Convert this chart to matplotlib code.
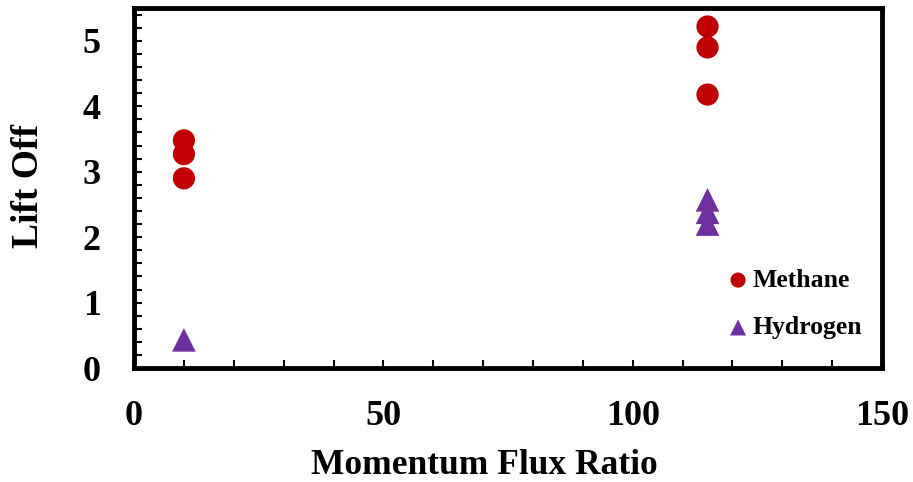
import matplotlib
matplotlib.use("Agg")
import matplotlib.pyplot as plt
from matplotlib.ticker import MultipleLocator

# Data
methane_x = [10, 10, 10, 115, 115, 115]
methane_y = [3.48, 3.27, 2.90, 5.22, 4.90, 4.18]
hydrogen_x = [10, 115, 115, 115]
hydrogen_y = [0.43, 2.57, 2.38, 2.20]

x_ticks = [0, 50, 100, 150]
y_ticks = [0, 1, 2, 3, 4, 5]

plt.rcParams['font.family'] = ['Liberation Serif', 'DejaVu Serif']
plt.rcParams['font.weight'] = 'bold'

fig = plt.figure(figsize=(9.13, 4.82), dpi=100)
ax = fig.add_axes([0.1468, 0.2365, 0.9661 - 0.1468, 0.983 - 0.2365])

ax.scatter(methane_x, methane_y, s=16**2, marker='o', color='#C00000',
           edgecolors='none', label='Methane', zorder=3)
ax.scatter(hydrogen_x, hydrogen_y, s=17**2, marker='^', color='#7030A0',
           edgecolors='none', label='Hydrogen', zorder=3)

ax.set_xlim(0, 150)
ax.set_ylim(0, 5.5)
ax.set_xticks(x_ticks)
ax.set_yticks(y_ticks)
ax.xaxis.set_minor_locator(MultipleLocator(10))
ax.yaxis.set_minor_locator(MultipleLocator(0.2))

for s in ax.spines.values():
    s.set_linewidth(3.5)
    s.set_color('black')

ax.tick_params(which='both', direction='in', length=6, width=1.5,
               top=False, right=False, labelsize=26)
ax.tick_params(axis='x', which='major', pad=23)
ax.tick_params(axis='y', which='major', pad=24)
for lab in ax.get_xticklabels() + ax.get_yticklabels():
    lab.set_fontweight('bold')

ax.set_xlabel('Momentum Flux Ratio', fontsize=25.5, fontweight='bold', va='baseline')
ax.set_ylabel('Lift Off', fontsize=27, fontweight='bold', va='baseline')
ax.xaxis.set_label_coords(0.4685, -0.294)
ax.yaxis.set_label_coords(-0.1283, 0.505)

leg = ax.legend(loc='lower right', frameon=False,
                markerscale=0.68, handletextpad=-0.45, labelspacing=0.95,
                borderaxespad=0.3, bbox_to_anchor=(0.997, 0.03),
                prop={'family': ['Liberation Serif'], 'weight': 'bold', 'size': 18.5})

fig.savefig('out.png', dpi=100)
